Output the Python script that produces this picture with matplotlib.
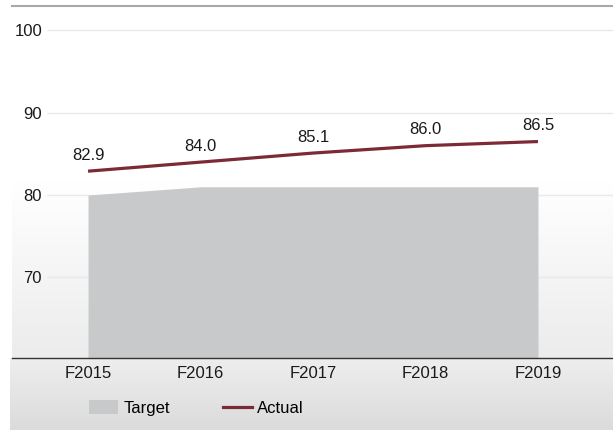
import numpy as np
import matplotlib
matplotlib.use("Agg")
import matplotlib.pyplot as plt
from matplotlib.patches import Patch
from matplotlib.lines import Line2D

# chart data
years = ["F2015", "F2016", "F2017", "F2018", "F2019"]
target = [80.0, 81.0, 81.0, 81.0, 81.0]
actual = [82.9, 84.0, 85.1, 86.0, 86.5]
y_ticks = [70, 80, 90, 100]

plt.rcParams['font.family'] = ['Liberation Sans', 'DejaVu Sans']

W, H = 613, 430
fig = plt.figure(figsize=(W / 100, H / 100), dpi=100)
fig.patch.set_facecolor("white")

# bottom band with gradient behind the tick labels and legend
ax_bot = fig.add_axes([10 / W, 0, 1 - 10 / W, 72 / H])
grad = np.linspace(0, 1, 100).reshape(-1, 1)
ax_bot.imshow(grad, cmap=matplotlib.colors.LinearSegmentedColormap.from_list(
    "b", ["#efeeee", "#dcdbdb"]), aspect="auto", extent=[0, 1, 1, 0])
ax_bot.set_axis_off()

ax = fig.add_axes([12 / W, 72 / H, 1 - 12 / W, 352 / H])
ax.set_zorder(2)
ax.patch.set_alpha(0)

x = np.arange(len(years))
xmin, xmax = -0.676, 4.667
ymin, ymax = 60.2, 102.97
ax.set_xlim(xmin, xmax)
ax.set_ylim(ymin, ymax)

# plot background gradient
ax.imshow(np.linspace(0, 1, 100).reshape(-1, 1),
          cmap=matplotlib.colors.LinearSegmentedColormap.from_list(
              "p", ["#ffffff", "#ffffff", "#ececec"]),
          aspect="auto", extent=[xmin, xmax, ymin, ymax], zorder=0)

# gridlines
ax.hlines(y_ticks, -0.365, xmax, color="#e9e9e9", lw=1, zorder=1)

ax.fill_between(x, ymin - 5, target, color="#c8c9cb", lw=0, zorder=2)
ax.plot(x, actual, color="#7d2a36", lw=2.3, zorder=3, solid_capstyle="butt")

for xi, v in zip(x, actual):
    ax.annotate(f"{v:.1f}", (xi, v), xytext=(0, 6), textcoords="offset points",
                ha="center", va="bottom", fontsize=12, color="#1a1a1a")

ax.set_xticks(x)
ax.set_xticklabels(years, fontsize=12, color="#1a1a1a")
ax.set_yticks(y_ticks)
ax.set_yticklabels([str(t) for t in y_ticks], fontsize=12, color="#1a1a1a")
ax.tick_params(axis="x", length=0, pad=6)
ax.tick_params(axis="y", length=0, pad=-21.6)

for s in ["left", "right"]:
    ax.spines[s].set_visible(False)
ax.spines["top"].set_color("#a8a8a8")
ax.spines["top"].set_linewidth(1.5)
ax.spines["bottom"].set_color("#333333")
ax.spines["bottom"].set_linewidth(1)

handles = [Patch(facecolor="#c8c9cb", edgecolor="none", label="Target"),
           Line2D([0], [0], color="#7d2a36", lw=2.3, label="Actual")]
fig.legend(handles=handles, loc="center left", bbox_to_anchor=(89 / W, 22 / H),
           ncol=2, frameon=False, fontsize=12, handlelength=1.75, handleheight=0.85,
           handletextpad=0.3, columnspacing=3.2, borderpad=0, borderaxespad=0)

fig.savefig("out.png", dpi=100)
